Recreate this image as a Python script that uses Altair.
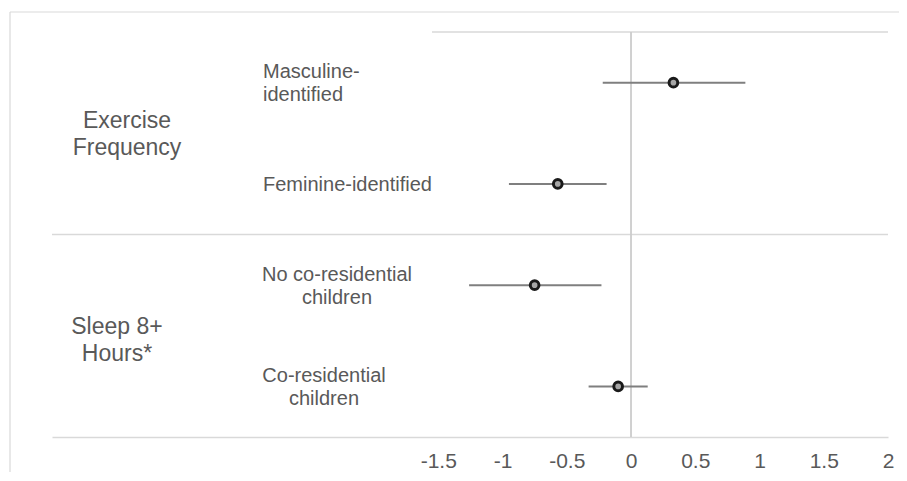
import altair as alt
import pandas as pd

# ---- data ----
subgroups = ["Masculine-identified", "Feminine-identified",
             "No co-residential children", "Co-residential children"]
sub_labels = ["Masculine-\nidentified", "Feminine-identified",
              "No co-residential\nchildren", "Co-residential\nchildren"]
estimates = [0.33, -0.57, -0.75, -0.10]
lower = [-0.22, -0.95, -1.26, -0.33]
upper = [0.89, -0.19, -0.23, 0.13]
groups = ["Exercise\nFrequency", "Sleep 8+\nHours*"]
x_ticks = [-1.5, -1, -0.5, 0, 0.5, 1, 1.5, 2]

df = pd.DataFrame({"key": subgroups, "est": estimates, "lo": lower, "hi": upper})

FONT = "Liberation Sans"
TEXT = "#595959"
LINE = "#d9d9d9"
W, H = 836, 405
PAD = {"left": 44, "top": 24, "right": 11, "bottom": 35}

xscale = alt.Scale(domain=[-4.506, 2], nice=False, zero=False)
yscale = alt.Scale(domain=subgroups, type="point", padding=0.5)

x_axis = alt.Axis(values=x_ticks, ticks=False, tickSize=0, grid=False,
                  domainColor=LINE, domainWidth=1.5,
                  labelFont=FONT, labelFontSize=21, labelColor=TEXT,
                  labelPadding=13, labelFlush=False, labelOverlap=False,
                  labelBound=False, labelExpr="'' + datum.value", title=None)

one = alt.Data(values=[{"v": 1}])

border_top = alt.Chart(one).mark_rule(color=LINE, strokeWidth=1.2).encode(
    x=alt.value(-42), x2=alt.value(W + PAD["right"]), y=alt.value(-20))
border_left = alt.Chart(one).mark_rule(color=LINE, strokeWidth=1.2).encode(
    x=alt.value(-42), y=alt.value(-20), y2=alt.value(H + PAD["bottom"]))
top_line = alt.Chart(one).mark_rule(color=LINE, strokeWidth=1.5).encode(
    x=alt.value(380), x2=alt.value(W), y=alt.value(0))
sep_line = alt.Chart(one).mark_rule(color=LINE, strokeWidth=1.5).encode(
    x=alt.value(0), x2=alt.value(W), y=alt.value(H / 2))
zero_line = alt.Chart(one).mark_rule(color="#cccccc", strokeWidth=1.8).encode(
    x=alt.X(datum=0, type="quantitative", scale=xscale, axis=x_axis),
    y=alt.value(0), y2=alt.value(H))

bars = alt.Chart(df).mark_rule(color="#7f7f7f", strokeWidth=2).encode(
    x=alt.X("lo:Q", scale=xscale, axis=x_axis),
    x2="hi:Q",
    y=alt.Y("key:N", scale=yscale, axis=None))

points = alt.Chart(df).mark_circle(size=75, fill="#a6a6a6", stroke="#1a1a1a",
                                   strokeWidth=3, opacity=1).encode(
    x=alt.X("est:Q", scale=xscale, axis=x_axis),
    y=alt.Y("key:N", scale=yscale, axis=None))

label_style = [(211, "left"), (211, "left"), (285, "center"), (272, "center")]
sub_text_layers = []
for key, lab, (xp, al) in zip(subgroups, sub_labels, label_style):
    n_extra = lab.count("\n")
    sub_text_layers.append(
        alt.Chart(alt.Data(values=[{"key": key, "label": lab}])).mark_text(
            align=al, baseline="middle", font=FONT, fontSize=20, color=TEXT,
            lineBreak="\n", lineHeight=23, dy=1 - n_extra * 11.5).encode(
            x=alt.value(xp),
            y=alt.Y("key:N", scale=yscale, axis=None),
            text="label:N"))

group_pos = [(75, 102), (65, 308)]
group_layers = []
for lab, (xp, yp) in zip(groups, group_pos):
    group_layers.append(
        alt.Chart(alt.Data(values=[{"label": lab}])).mark_text(
            align="center", baseline="middle", font=FONT, fontSize=23,
            color=TEXT, lineBreak="\n", lineHeight=27, dy=-13.5).encode(
            x=alt.value(xp), y=alt.value(yp), text="label:N"))

chart = alt.layer(
    border_top, border_left, top_line, sep_line, zero_line, bars, points,
    *sub_text_layers, *group_layers
).properties(
    width=W, height=H,
    padding=PAD,
    autosize=alt.AutoSizeParams(type="none"),
    background="white"
).configure_view(stroke=None)

chart.save("out.html", embed_options={"renderer": "svg", "actions": False})
